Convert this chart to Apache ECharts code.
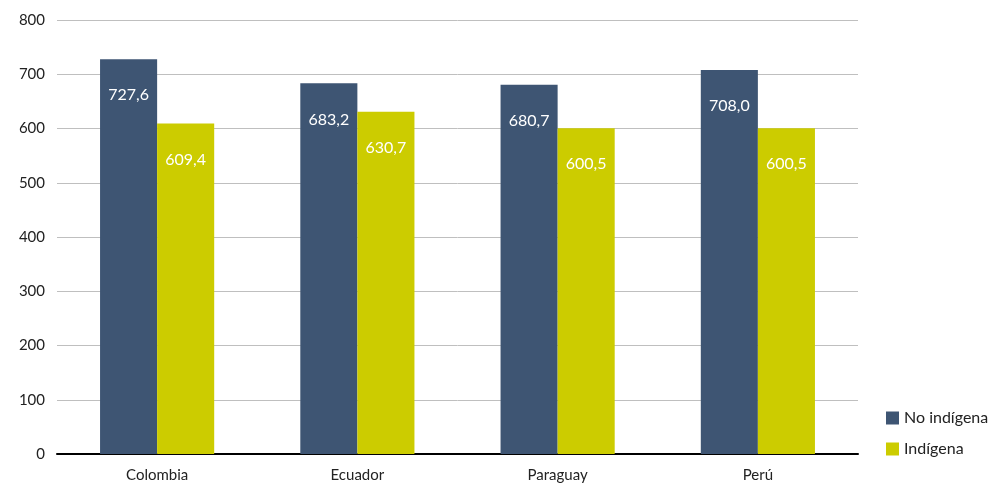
<!DOCTYPE html>
<html><head><meta charset="utf-8">
<script src="https://cdn.jsdelivr.net/npm/echarts@6/dist/echarts.min.js"></script>
<style>html,body{margin:0;padding:0;background:#fff}#c{width:1001px;height:485px}</style>
</head><body><div id="c"></div>
<script>
var categories = ['Colombia', 'Ecuador', 'Paraguay', 'Perú'];
var noIndigena = [727.6, 683.2, 680.7, 708.0];
var indigena = [609.4, 630.7, 600.5, 600.5];
var seriesNames = ['No indígena', 'Indígena'];
var FONT = 'Lato';
function fmt(p){ return p.value.toFixed(1).replace('.', ','); }
var chart = echarts.init(document.getElementById('c'));
chart.setOption({
  animation: false,
  textStyle: {fontFamily: FONT},
  grid: {left: 57, right: 143, top: 20, bottom: 31, containLabel: false},
  legend: {
    orient: 'vertical', left: 881, top: 405, itemWidth: 13, itemHeight: 13, itemGap: 15,
    icon: 'rect',
    textStyle: {fontFamily: FONT, fontSize: 16, color: '#222'},
    data: seriesNames
  },
  xAxis: {
    type: 'category', data: categories,
    axisLine: {lineStyle: {color: '#000', width: 2}},
    axisTick: {show: false},
    axisLabel: {fontFamily: FONT, fontSize: 15, color: '#222', margin: 14}
  },
  yAxis: {
    type: 'value', min: 0, max: 800, interval: 100,
    axisLine: {show: false}, axisTick: {show: false},
    axisLabel: {fontFamily: FONT, fontSize: 15, color: '#222', margin: 12},
    splitLine: {lineStyle: {color: '#bfbfbf', width: 1}}
  },
  series: [
    {name: seriesNames[0], type: 'bar', data: noIndigena, barGap: '0%', barCategoryGap: '43%',
     itemStyle: {color: '#3E5573'},
     label: {show: true, position: 'insideTop', distance: 28, color: '#fff', fontSize: 16, fontFamily: FONT, formatter: fmt}},
    {name: seriesNames[1], type: 'bar', data: indigena, barGap: '0%', barCategoryGap: '43%',
     itemStyle: {color: '#CCCC00'},
     label: {show: true, position: 'insideTop', distance: 28, color: '#fff', fontSize: 16, fontFamily: FONT, formatter: fmt}}
  ]
});
</script></body></html>
